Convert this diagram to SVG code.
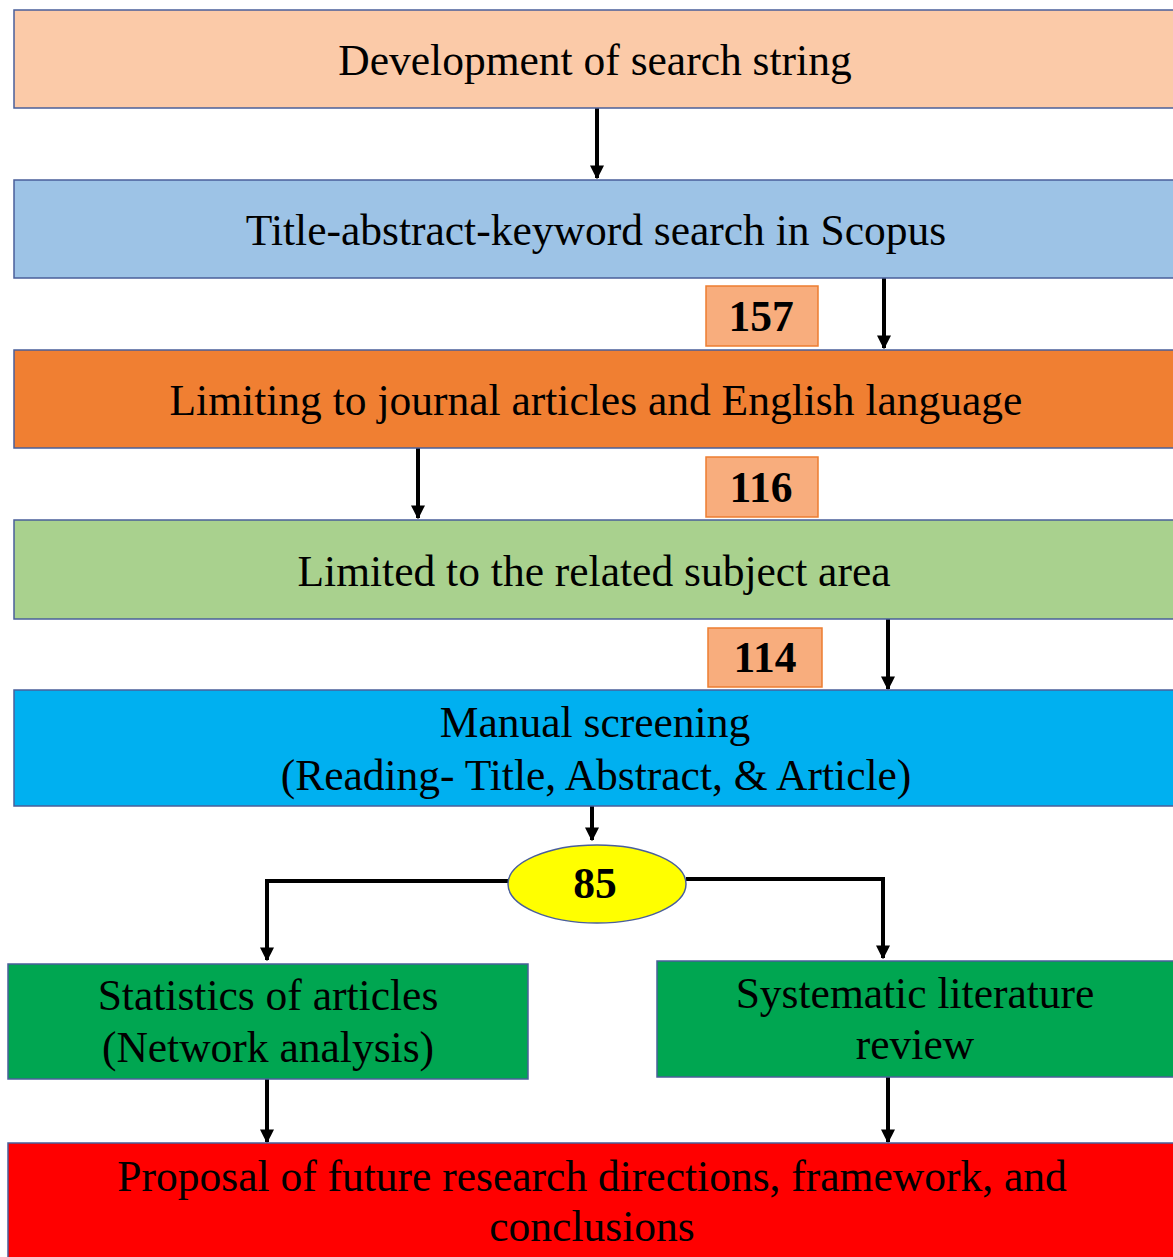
<svg xmlns="http://www.w3.org/2000/svg" width="1173" height="1257" viewBox="0 0 1173 1257">
<style>
.box{stroke:#4a5f9a;stroke-width:1.5}
.t{font-family:"Liberation Serif","Times New Roman",serif;font-size:43.5px;fill:#000;text-anchor:middle}
.n{font-family:"Liberation Serif","Times New Roman",serif;font-size:43.5px;font-weight:bold;fill:#000;text-anchor:middle}
.lbl{fill:#F8AD7D;stroke:#ED7D31;stroke-width:1.5}
.c{fill:none;stroke:#000;stroke-width:4;marker-end:url(#ah)}
</style>
<defs>
<marker id="ah" viewBox="0 0 10 10" refX="9" refY="5" markerWidth="3.5" markerHeight="4.5" orient="auto" markerUnits="strokeWidth">
<path d="M0,0 L10,5 L0,10 Z" fill="#000"/>
</marker>
</defs>
<rect width="1173" height="1257" fill="#fff"/>
<g id="connectors">
<path class="c" d="M597,108 V178"/>
<path class="c" d="M884,278 V348"/>
<path class="c" d="M418,448 V518"/>
<path class="c" d="M888,619 V689"/>
<path class="c" d="M592,806 V840"/>
<path class="c" d="M510,881 H267 V960"/>
<path class="c" d="M686,879 H883 V958"/>
<path class="c" d="M267,1079 V1142"/>
<path class="c" d="M888,1077 V1142"/>
</g>
<g id="n1"><rect class="box" x="14" y="10" width="1162" height="98" fill="#FBCAA8"/><text class="t" x="595" y="75">Development of search string</text></g>
<g id="n2"><rect class="box" x="14" y="180" width="1162" height="98" fill="#9DC3E6"/><text class="t" x="596" y="245">Title-abstract-keyword search in Scopus</text></g>
<g id="l157"><rect class="lbl" x="706" y="286" width="112" height="60"/><text class="n" x="761" y="331">157</text></g>
<g id="n3"><rect class="box" x="14" y="350" width="1162" height="98" fill="#F07F32"/><text class="t" x="596" y="415">Limiting to journal articles and English language</text></g>
<g id="l116"><rect class="lbl" x="706" y="457" width="112" height="60"/><text class="n" x="761" y="502">116</text></g>
<g id="n4"><rect class="box" x="14" y="520" width="1162" height="99" fill="#A9D18E"/><text class="t" x="594" y="586">Limited to the related subject area</text></g>
<g id="l114"><rect class="lbl" x="708" y="628" width="114" height="59"/><text class="n" x="765" y="672">114</text></g>
<g id="n5"><rect class="box" x="14" y="690" width="1162" height="116" fill="#00B0F0"/><text class="t" x="595" y="737">Manual screening</text><text class="t" x="596" y="790">(Reading- Title, Abstract, &amp; Article)</text></g>
<g id="n85"><ellipse cx="597" cy="884" rx="89" ry="39" fill="#FFFF00" stroke="#4a5f9a" stroke-width="1.5"/><text class="n" x="595" y="898">85</text></g>
<g id="n6"><rect class="box" x="8" y="964" width="520" height="115" fill="#00A651"/><text class="t" x="268" y="1010">Statistics of articles</text><text class="t" x="268" y="1062">(Network analysis)</text></g>
<g id="n7"><rect class="box" x="657" y="961" width="519" height="116" fill="#00A651"/><text class="t" x="915" y="1008">Systematic literature</text><text class="t" x="915" y="1059">review</text></g>
<g id="n8"><rect class="box" x="8" y="1143" width="1168" height="120" fill="#FF0000"/><text class="t" x="592" y="1191">Proposal of future research directions, framework, and</text><text class="t" x="592" y="1241">conclusions</text></g>
</svg>
